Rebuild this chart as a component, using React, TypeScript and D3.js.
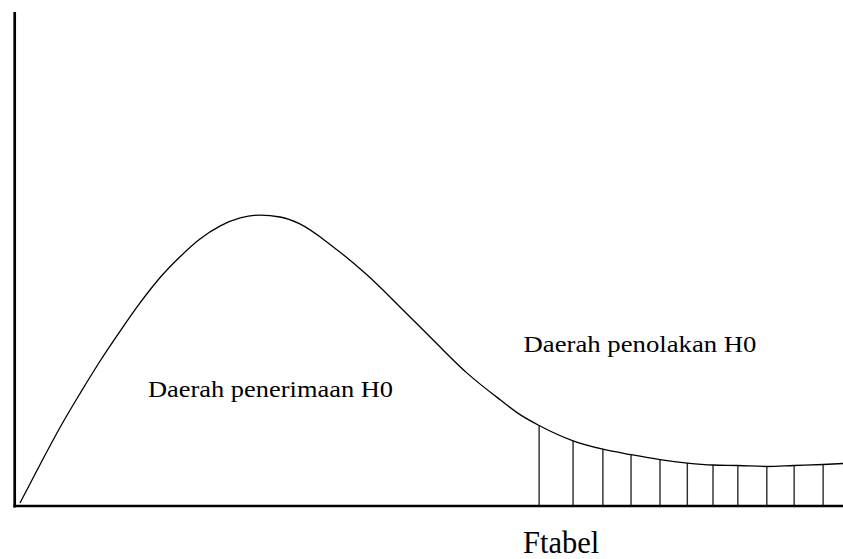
import * as d3 from "d3";

// F-distribution sketch (x: 0..100, density: 0..100)
const curveX = [
  0.6, 3.0, 5.4, 7.9, 10.3, 12.7, 15.1, 17.5, 19.9, 22.3, 24.8, 27.2, 29.6,
  32.0, 34.4, 38.4, 42.5, 46.5, 50.5, 54.6, 58.6, 61.0, 63.3, 67.4, 71.0, 74.4,
  77.9, 81.2, 84.3, 87.3, 90.8, 94.1, 97.6, 100,
];
const curveY = [
  0.6, 8.3, 15.8, 22.9, 29.4, 35.4, 41.1, 46.2, 50.4, 54.0, 56.7, 58.3, 58.9,
  58.5, 57.1, 52.5, 46.8, 40.3, 33.6, 26.9, 21.5, 18.5, 16.3, 13.2, 11.5, 10.4,
  9.4, 8.7, 8.3, 8.2, 8.0, 8.2, 8.4, 8.6,
];
// vertical hatch lines in the rejection region
const hatchX = [63.3, 67.4, 71.0, 74.4, 77.9, 81.2, 84.3, 87.3, 90.8, 94.1, 97.6];

const acceptLabel = "Daerah penerimaan H0";
const rejectLabel = "Daerah penolakan H0";
const criticalLabel = "Ftabel";

const W = 843;
const H = 559;

export default function App() {
  const x = d3.scaleLinear().domain([0, 100]).range([15, 843]);
  const y = d3.scaleLinear().domain([0, 100]).range([506, 12]);

  const points: [number, number][] = curveX.map((v, i) => [v, curveY[i]]);
  const line = d3
    .line<[number, number]>()
    .x((d) => x(d[0]))
    .y((d) => y(d[1]))
    .curve(d3.curveMonotoneX);

  // height of the curve at a hatch position
  const heightAt = (v: number) => {
    const i = curveX.indexOf(v);
    return i >= 0 ? curveY[i] : 0;
  };

  const font = "'Liberation Serif', 'Times New Roman', serif";

  return (
    <svg
      width={W}
      height={H}
      style={{ position: "fixed", left: 0, top: 0, background: "#fff" }}
    >
      {/* hatch */}
      {hatchX.map((v) => (
        <line
          key={v}
          x1={x(v)}
          x2={x(v)}
          y1={y(0)}
          y2={y(heightAt(v))}
          stroke="#2a2a2a"
          strokeWidth={1.4}
        />
      ))}

      {/* density curve */}
      <path d={line(points) ?? ""} fill="none" stroke="#000" strokeWidth={1.3} />

      {/* axes */}
      <line x1={x(0) - 0.3} x2={x(0) - 0.3} y1={y(100)} y2={y(0) + 1.4} stroke="#000" strokeWidth={2.7} />
      <line x1={x(0) - 1.6} x2={x(100)} y1={y(0)} y2={y(0)} stroke="#000" strokeWidth={2.6} />

      {/* labels: the picture's text is a little wider than the font */}
      <text
        x={148}
        y={397}
        fontFamily={font}
        fontSize={24}
        textLength={245}
        lengthAdjust="spacingAndGlyphs"
      >
        {acceptLabel}
      </text>
      <text
        x={523.5}
        y={352}
        fontFamily={font}
        fontSize={24}
        textLength={233}
        lengthAdjust="spacingAndGlyphs"
      >
        {rejectLabel}
      </text>
      <text x={523} y={552.5} fontFamily={font} fontSize={30.5}>
        {criticalLabel}
      </text>
    </svg>
  );
}
